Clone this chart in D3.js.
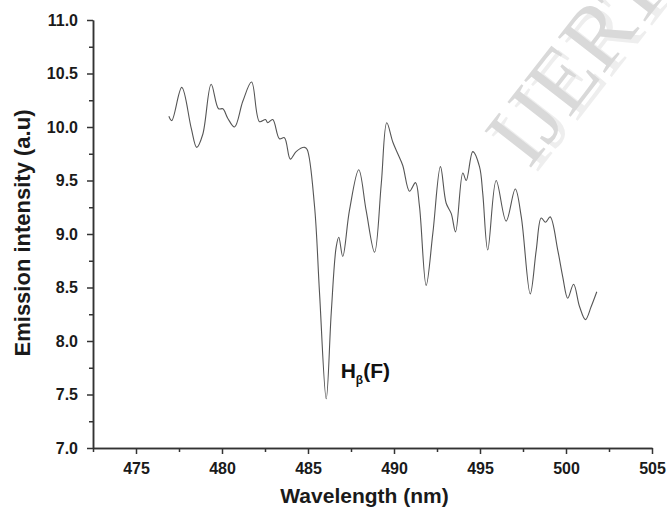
<!DOCTYPE html>
<html>
<head>
<meta charset="utf-8">
<script src="https://cdn.jsdelivr.net/npm/d3@7"></script>
<style>
  body { margin: 0; background: #fff; }
  svg { display: block; font-family: "Liberation Sans", Arial, sans-serif; }
  .axis path, .axis line { stroke: #333; stroke-width: 1.5; }
  .axis text { font-size: 16px; font-weight: bold; fill: #1a1a1a; }
  .axis-label { font-weight: bold; fill: #1a1a1a; }
</style>
</head>
<body>
<svg id="chart"><g id="vis-g"></g></svg>
<script>
// spectrum (nm, a.u.)
const wavelength = [
  476.91, 477.08, 477.66, 478.21, 478.53, 478.88, 479.37, 479.80, 480.05, 480.34,
  480.73, 481.21, 481.72, 482.18, 482.53, 482.66, 482.95, 483.34, 483.63, 483.97,
  484.31, 484.80, 484.95, 485.38, 485.67, 486.06, 486.35, 486.64, 486.79, 487.02,
  487.41, 487.95, 488.38, 488.87, 489.26, 489.58, 489.93, 490.22, 490.51, 490.90,
  491.25, 491.48, 491.87, 492.26, 492.70, 493.03, 493.33, 493.58, 494.00, 494.20,
  494.58, 494.97, 495.16, 495.45, 495.94, 496.52, 497.05, 497.40, 497.92, 498.27,
  498.56, 498.81, 499.08, 499.52, 499.81, 500.10, 500.44, 500.79, 501.13, 501.46,
  501.79
];
const intensity = [
  10.10, 10.06, 10.37, 9.99, 9.81, 9.93, 10.40, 10.17, 10.17, 10.08,
  10.00, 10.24, 10.42, 10.05, 10.07, 10.04, 10.07, 9.89, 9.90, 9.70,
  9.77, 9.81, 9.79, 9.26, 8.45, 7.46, 8.26, 8.88, 8.97, 8.79,
  9.22, 9.60, 9.22, 8.83, 9.47, 10.04, 9.86, 9.75, 9.64, 9.40,
  9.48, 9.26, 8.52, 9.01, 9.63, 9.29, 9.19, 9.02, 9.57, 9.50,
  9.77, 9.63, 9.38, 8.85, 9.50, 9.12, 9.42, 9.16, 8.44, 8.85,
  9.15, 9.11, 9.16, 8.85, 8.60, 8.40, 8.53, 8.32, 8.20, 8.32,
  8.46
];

const xMajor = [475, 480, 485, 490, 495, 500, 505];
const xMinor = [472.5, 477.5, 482.5, 487.5, 492.5, 497.5, 502.5];
const yMajor = [7.0, 7.5, 8.0, 8.5, 9.0, 9.5, 10.0, 10.5, 11.0];
const yMinor = [7.25, 7.75, 8.25, 8.75, 9.25, 9.75, 10.25, 10.75];

const points = wavelength.map((w, i) => ({ w: w, v: intensity[i] }));

const width = 667;
const height = 518;
const margin = { left: 93, right: 15, top: 20, bottom: 70 };
const visWidth = width - margin.left - margin.right;
const visHeight = height - margin.top - margin.bottom;

const svg = d3.select('svg#chart').attr('width', width).attr('height', height);

// watermark behind everything
svg.append('text')
  .attr('transform', 'translate(536,174) rotate(-52)')
  .style('font-family', '"Liberation Serif", "DejaVu Serif", serif')
  .style('font-size', '90px')
  .style('fill', '#eeeeee')
  .text('IJERT')
  .clone(true)
  .attr('transform', 'translate(529,170) rotate(-52)')
  .style('fill', '#d9d9d9');

const g = d3.select('g#vis-g').attr('transform', 'translate(' + margin.left + ',' + margin.top + ')');
g.raise();

const xScale = d3.scaleLinear().domain([472.5, 505]).range([0, visWidth]);
const yScale = d3.scaleLinear().domain([7, 11]).range([visHeight, 0]);

// minor ticks
g.append('g').attr('class', 'axis')
  .attr('transform', 'translate(0,' + visHeight + ')')
  .call(d3.axisBottom(xScale).tickValues(xMinor).tickSize(4).tickSizeOuter(0).tickFormat(''));
g.append('g').attr('class', 'axis')
  .call(d3.axisLeft(yScale).tickValues(yMinor).tickSize(4).tickSizeOuter(0).tickFormat(''));

// major ticks
g.append('g').attr('class', 'axis')
  .attr('transform', 'translate(0,' + visHeight + ')')
  .call(d3.axisBottom(xScale).tickValues(xMajor).tickSize(6).tickSizeOuter(0).tickPadding(9).tickFormat(d3.format('d')));
g.append('g').attr('class', 'axis')
  .call(d3.axisLeft(yScale).tickValues(yMajor).tickSize(6).tickSizeOuter(0).tickPadding(9).tickFormat(d3.format('.1f')));

// spectrum
const line = d3.line()
  .x(d => xScale(d.w))
  .y(d => yScale(d.v))
  .curve(d3.curveCatmullRom.alpha(0.5));

g.append('path')
  .datum(points)
  .attr('d', line)
  .attr('fill', 'none')
  .attr('stroke', '#555')
  .attr('stroke-width', 1.1);

// H-beta annotation
const hb = g.append('text')
  .attr('x', xScale(486.9))
  .attr('y', yScale(7.65))
  .style('font-weight', 'bold')
  .style('font-size', '21px')
  .style('fill', '#111');
hb.append('tspan').text('H');
hb.append('tspan').attr('dy', 6).style('font-size', '12px').text('β');
hb.append('tspan').attr('dy', -6).text('(F)');

// axis titles
g.append('text').attr('class', 'axis-label')
  .attr('x', visWidth / 2 - 8)
  .attr('y', visHeight + 55)
  .attr('text-anchor', 'middle')
  .style('font-size', '21px')
  .text('Wavelength (nm)');

g.append('text').attr('class', 'axis-label')
  .attr('transform', 'translate(' + (-63) + ',' + (visHeight / 2 - 1) + ') rotate(-90)')
  .attr('text-anchor', 'middle')
  .style('font-size', '22px')
  .text('Emission intensity (a.u)');
</script>
</body>
</html>
